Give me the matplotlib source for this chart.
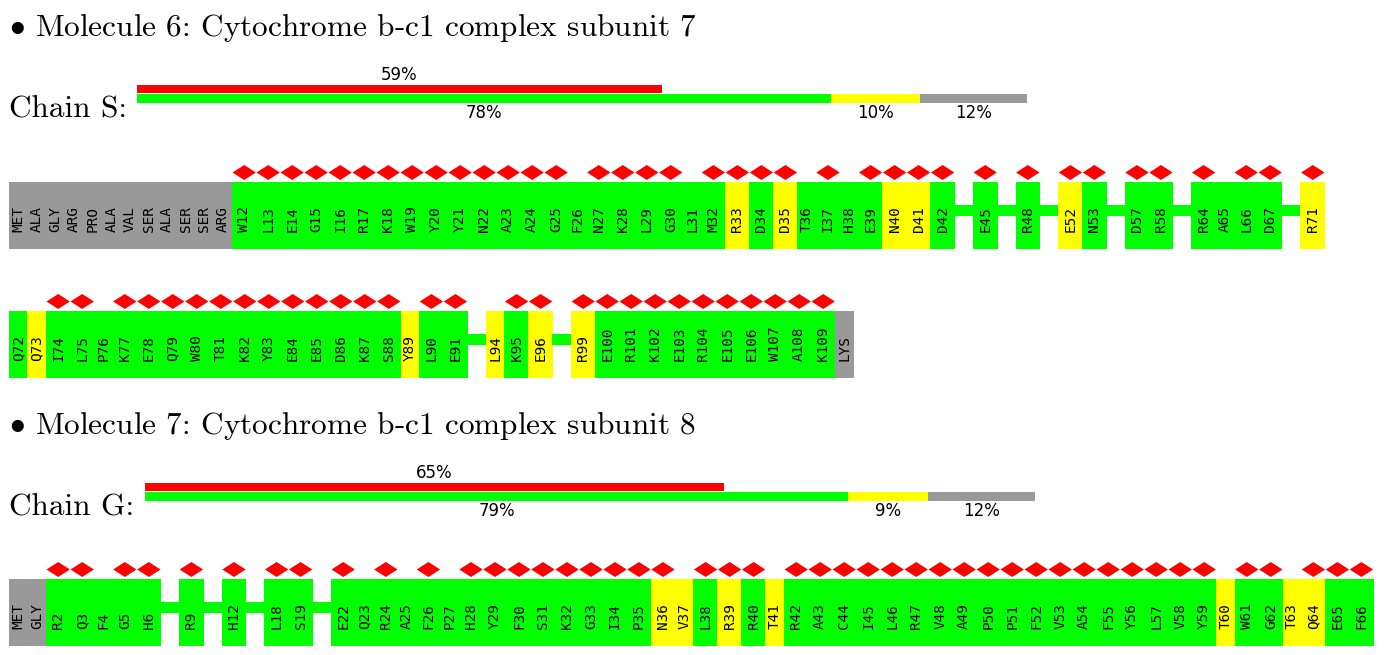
import matplotlib
matplotlib.use("Agg")
import matplotlib.pyplot as plt
from matplotlib.patches import Rectangle, Polygon

plt.rcParams["mathtext.fontset"] = "cm"

# Data
titles = ["Molecule 6: Cytochrome b-c1 complex subunit 7",
          "Molecule 7: Cytochrome b-c1 complex subunit 8"]
chains = ["S", "G"]
pct_red = [59, 65]
pct_green = [78, 79]
pct_yellow = [10, 9]
pct_gray = [12, 12]

# residue tokens: NAME:quality(g/y/x) + '*' if flagged, '-' = collapsed gap
row_s1 = ("MET:x ALA:x GLY:x ARG:x PRO:x ALA:x VAL:x SER:x ALA:x SER:x SER:x ARG:x "
          "W12:g* L13:g* E14:g* G15:g* I16:g* R17:g* K18:g* W19:g* Y20:g* Y21:g* "
          "N22:g* A23:g* A24:g* G25:g* F26:g N27:g* K28:g* L29:g* G30:g* L31:g M32:g* "
          "R33:y* D34:g* D35:y* T36:g I37:g* H38:g E39:g* N40:y* D41:y* D42:g* - "
          "E45:g* - R48:g* - E52:y* N53:g* - D57:g* R58:g* - R64:g* A65:g L66:g* D67:g* - "
          "R71:y*").split()
row_s2 = ("Q72:g Q73:y I74:g* L75:g* P76:g K77:g* E78:g* Q79:g* W80:g* T81:g* K82:g* "
          "Y83:g* E84:g* E85:g* D86:g* K87:g* S88:g* Y89:y L90:g* E91:g* - L94:y K95:g* "
          "E96:y* - R99:y* E100:g* R101:g* K102:g* E103:g* R104:g* E105:g* E106:g* "
          "W107:g* A108:g* K109:g* LYS:x").split()
row_g1 = ("MET:x GLY:x R2:g* Q3:g* F4:g G5:g* H6:g* - R9:g* - H12:g* - L18:g* S19:g* - "
          "E22:g* Q23:g R24:g* A25:g F26:g* P27:g H28:g* Y29:g* F30:g* S31:g* K32:g* "
          "G33:g* I34:g* P35:g* N36:y* V37:y L38:g* R39:y* R40:g* T41:y R42:g* A43:g* "
          "C44:g* I45:g* L46:g* R47:g* V48:g* A49:g* P50:g* P51:g* F52:g* V53:g* A54:g* "
          "F55:g* Y56:g* L57:g* V58:g* Y59:g* T60:y W61:g* G62:g* T63:y Q64:y* E65:g* "
          "F66:g*").split()

colors = {"g": "#00ff00", "y": "#ffff00", "x": "#999999"}
W_FLAG, W_PLAIN = 24.0, 18.6
BOX_H = 67

fig = plt.figure(figsize=(14, 6.55), dpi=100)
ax = fig.add_axes([0, 0, 1, 1])
ax.set_xlim(0, 1400)
ax.set_ylim(655, 0)
ax.axis("off")

serif = dict(family="cmr10", color="black")


def title(y, text):
    ax.text(9, y, r"$\bullet$ " + text, fontsize=22.5, va="center", ha="left", **serif)


def summary(y, name, x0, red, green, yellow, gray):
    ax.text(9, y + 25, f"Chain {name}:", fontsize=22.5, va="center", ha="left", **serif)
    total = 890
    sc = total / 100
    ax.barh(y + 4, red * sc, left=x0, height=8, color="#ff0000", align="center")
    parts = [(green, "#00ff00"), (yellow, "#ffff00"), (gray, "#999999")]
    left = x0
    for p, c in parts:
        ax.barh(y + 13, p * sc, left=left, height=9, color=c, align="center")
        ax.text(left + p * sc / 2, y + 28, f"{p}%", fontsize=12, ha="center",
                va="center", family="DejaVu Sans")
        left += p * sc
    ax.text(x0 + red * sc / 2, y - 10, f"{red}%", fontsize=12, ha="center",
            va="center", family="DejaVu Sans")


def residues(top, tokens):
    x = 9.0
    for tok in tokens:
        if tok == "-":
            ax.add_patch(Rectangle((x - 0.5, top + 23), W_PLAIN + 1, 11,
                                   color="#00ff00", lw=0))
            x += W_PLAIN
            continue
        name, q = tok.split(":")
        flag = q.endswith("*")
        w = W_FLAG if flag else W_PLAIN
        ax.add_patch(Rectangle((x - 0.3, top), w + 0.6, BOX_H,
                               color=colors[q[0]], lw=0))
        cx = x + w / 2
        ax.text(cx, top + 50, name, rotation=90, ha="center", va="bottom",
                fontsize=10.4, family="DejaVu Sans Mono")
        if flag:
            cy = top - 9.5
            ax.add_patch(Polygon([(cx - 11.7, cy), (cx, cy - 7.5), (cx + 11.7, cy),
                                  (cx, cy + 7.5)], closed=True, color="#ff0000", lw=0))
        x += w


title(28, titles[0])
summary(85, chains[0], 137, pct_red[0], pct_green[0], pct_yellow[0], pct_gray[0])
residues(182, row_s1)
residues(311, row_s2)
title(426, titles[1])
summary(483, chains[1], 145, pct_red[1], pct_green[1], pct_yellow[1], pct_gray[1])
residues(579, row_g1)

fig.savefig("out.png", dpi=100)
